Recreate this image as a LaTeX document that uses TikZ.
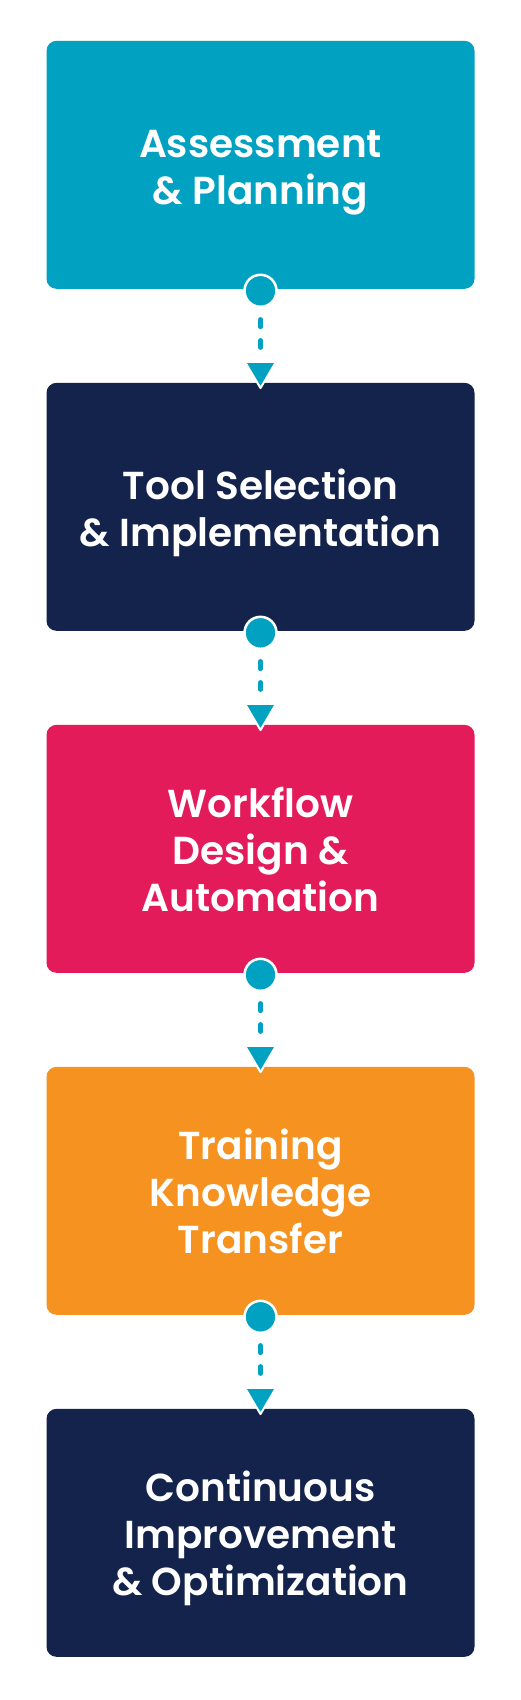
\documentclass[tikz,border=0pt]{standalone}
\usepackage{fontspec}
\newfontfamily\stagefont{Poppins SemiBold}
\usepackage{tikz}
\usetikzlibrary{positioning}
\usetikzlibrary{calc}
\usepackage{xcolor}

\definecolor{stageteal}{HTML}{00A1C1}
\definecolor{stagenavy}{HTML}{13234B}
\definecolor{stagepink}{HTML}{E31B5A}
\definecolor{stageorange}{HTML}{F59220}

% stage text, set a little lower than the box centre
\newcommand{\stagetext}[1]{\raisebox{-6.5pt}[\height][\depth]{\begin{tabular}{@{}c@{}}#1\end{tabular}}}

\begin{document}
\begin{tikzpicture}[x=1pt, y=1pt,
  stagebox/.style={rectangle, rounded corners=10pt, minimum width=428pt, minimum height=248pt,
    inner sep=0pt, outer sep=0pt, text=white,
    font=\stagefont\fontsize{39}{47}\selectfont},
  dot/.style={circle, fill=stageteal, draw=white, line width=2.5pt, minimum size=32pt, inner sep=0pt},
  dashline/.style={draw=stageteal, line width=4.5pt, line cap=round, dash pattern=on 7.5pt off 13.5pt},
  tiphead/.style={fill=stageteal, draw=white, line width=2pt, line join=round},
  node distance=94pt]

% Page frame
\useasboundingbox (0,0) rectangle (521,-1700);

% The five stages
\node[stagebox, fill=stageteal] (s1) at (260.5,-164.8) {\stagetext{Assessment\\\& Planning}};
\node[stagebox, fill=stagenavy, below=of s1] (s2) {\stagetext{Tool Selection\\\& Implementation}};
\node[stagebox, fill=stagepink, below=of s2] (s3) {\stagetext{Workflow\\Design \&\\Automation}};
\node[stagebox, fill=stageorange, below=of s3] (s4) {\stagetext{Training\\Knowledge\\Transfer}};
\node[stagebox, fill=stagenavy, below=of s4] (s5) {\stagetext{Continuous\\Improvement\\\& Optimization}};

% Dot, dashes and arrow head between two stages
\foreach \a/\b in {s1/s2, s2/s3, s3/s4, s4/s5} {
  \node[dot] (dot\a) at ($(\a.south)+(0,-2)$) {};
  \coordinate (head\b) at ($(\b.north)+(0,21)$);
  \draw[dashline, shorten <=11.3pt, shorten >=14.2pt] (dot\a.south) -- (head\b);
  \filldraw[tiphead] ($(head\b)+(-15.5,0)$) -- ($(head\b)+(15.5,0)$) -- ($(head\b)+(0,-26.3)$) -- cycle;
}

\end{tikzpicture}
\end{document}
